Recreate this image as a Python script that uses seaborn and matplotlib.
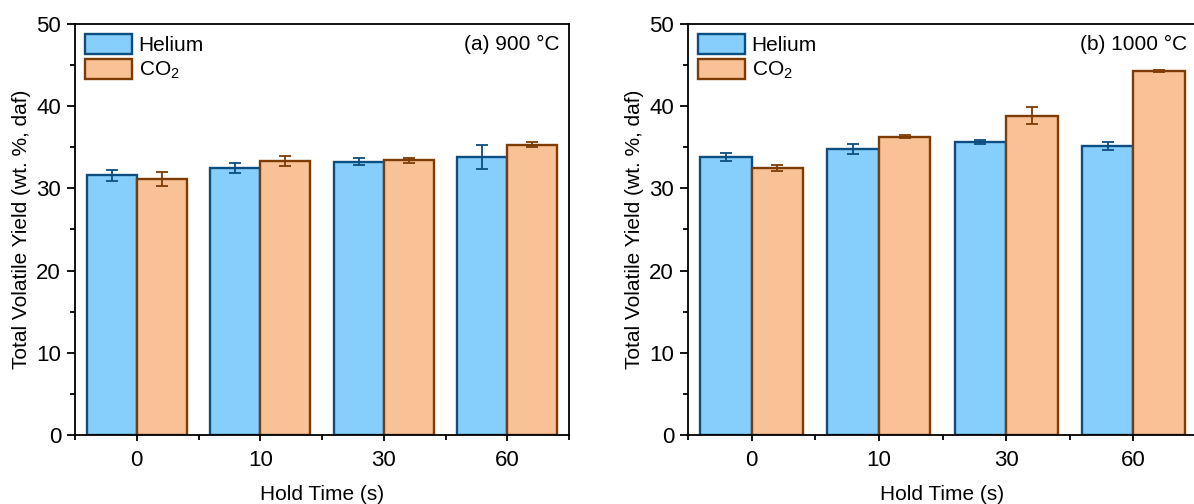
import matplotlib
matplotlib.use("Agg")
import matplotlib.pyplot as plt
import matplotlib.patches as mpatches
from matplotlib.ticker import MultipleLocator, FixedLocator
import pandas as pd
import seaborn as sns

# Hold times (s) used as categories
hold_times = ["0", "10", "30", "60"]
gases = ["Helium", "CO$_2$"]

# Total volatile yield (wt. %, daf) at 900 °C
he_900 = [31.6, 32.5, 33.25, 33.8]
he_900_err = [0.65, 0.65, 0.4, 1.5]
co2_900 = [31.1, 33.3, 33.4, 35.3]
co2_900_err = [0.85, 0.6, 0.35, 0.3]

# Total volatile yield (wt. %, daf) at 1000 °C
he_1000 = [33.8, 34.8, 35.65, 35.15]
he_1000_err = [0.5, 0.65, 0.25, 0.45]
co2_1000 = [32.5, 36.3, 38.85, 44.3]
co2_1000_err = [0.35, 0.2, 1.0, 0.1]

fill_colors = {"Helium": "#86CFFD", "CO$_2$": "#F8C196"}
edge_colors = {"Helium": "#0D4E80", "CO$_2$": "#7D3C05"}

sns.set_style("ticks")
plt.rcParams["font.family"] = ["Liberation Sans", "DejaVu Sans"]
plt.rcParams["mathtext.default"] = "regular"
plt.rcParams["font.size"] = 15
plt.rcParams["text.color"] = "black"
plt.rcParams["axes.labelcolor"] = "black"
plt.rcParams["xtick.color"] = "black"
plt.rcParams["ytick.color"] = "black"

fig = plt.figure(figsize=(11.94, 5.04), dpi=100)
ax_a = fig.add_axes([75 / 1194, 69 / 504, 494 / 1194, 411 / 504])
ax_b = fig.add_axes([688 / 1194, 69 / 504, 509 / 1194, 411 / 504])


def draw_panel(ax, he, he_err, co2, co2_err, tag):
    df = pd.DataFrame({
        "Hold Time (s)": hold_times * 2,
        "Yield": he + co2,
        "Gas": [gases[0]] * len(he) + [gases[1]] * len(co2),
    })
    sns.barplot(data=df, x="Hold Time (s)", y="Yield", hue="Gas",
                order=hold_times, hue_order=gases, palette=fill_colors,
                saturation=1, width=0.81, errorbar=None, linewidth=1.7,
                legend=False, ax=ax)

    for container, gas, errs in zip(ax.containers, gases, [he_err, co2_err]):
        for bar in container:
            bar.set_edgecolor(edge_colors[gas])
        xs = [b.get_x() + b.get_width() / 2 for b in container]
        ys = [b.get_height() for b in container]
        ax.errorbar(xs, ys, yerr=errs, fmt="none", ecolor=edge_colors[gas],
                    elinewidth=1.3, capsize=4.5, capthick=1.3, zorder=5)

    ax.set_xlim(-0.5, len(hold_times) - 0.5)
    ax.set_ylim(0, 50)
    ax.yaxis.set_major_locator(MultipleLocator(10))
    ax.yaxis.set_minor_locator(MultipleLocator(5))
    ax.xaxis.set_minor_locator(FixedLocator([i - 0.5 for i in range(len(hold_times) + 1)]))

    for side in ["left", "right", "top", "bottom"]:
        ax.spines[side].set_visible(True)
        ax.spines[side].set_linewidth(1.3)
        ax.spines[side].set_color("black")

    ax.tick_params(axis="y", which="major", direction="out", length=6, width=1.3,
                   pad=4, labelsize=16)
    ax.tick_params(axis="y", which="minor", direction="out", length=3.6, width=1.3)
    ax.tick_params(axis="x", which="major", direction="out", length=4, width=1.3,
                   pad=7, labelsize=16)
    ax.tick_params(axis="x", which="minor", direction="out", length=3.6, width=1.3)

    ax.set_xlabel("Hold Time (s)", labelpad=10)
    ax.set_ylabel("Total Volatile Yield (wt. %, daf)", labelpad=4)

    handles = [mpatches.Patch(facecolor=fill_colors[g], edgecolor=edge_colors[g],
                              linewidth=1.7, label=g) for g in gases]
    ax.legend(handles=handles, loc="upper left", bbox_to_anchor=(0, 1),
              frameon=False, handlelength=2.25, handleheight=1.1,
              handletextpad=0.3, labelspacing=0.15, borderaxespad=0.3,
              borderpad=0.2)

    ax.text(0.98, 0.951, tag, transform=ax.transAxes, ha="right", va="center")


draw_panel(ax_a, he_900, he_900_err, co2_900, co2_900_err, "(a) 900 °C")
draw_panel(ax_b, he_1000, he_1000_err, co2_1000, co2_1000_err, "(b) 1000 °C")

fig.savefig("out.png", dpi=100)
